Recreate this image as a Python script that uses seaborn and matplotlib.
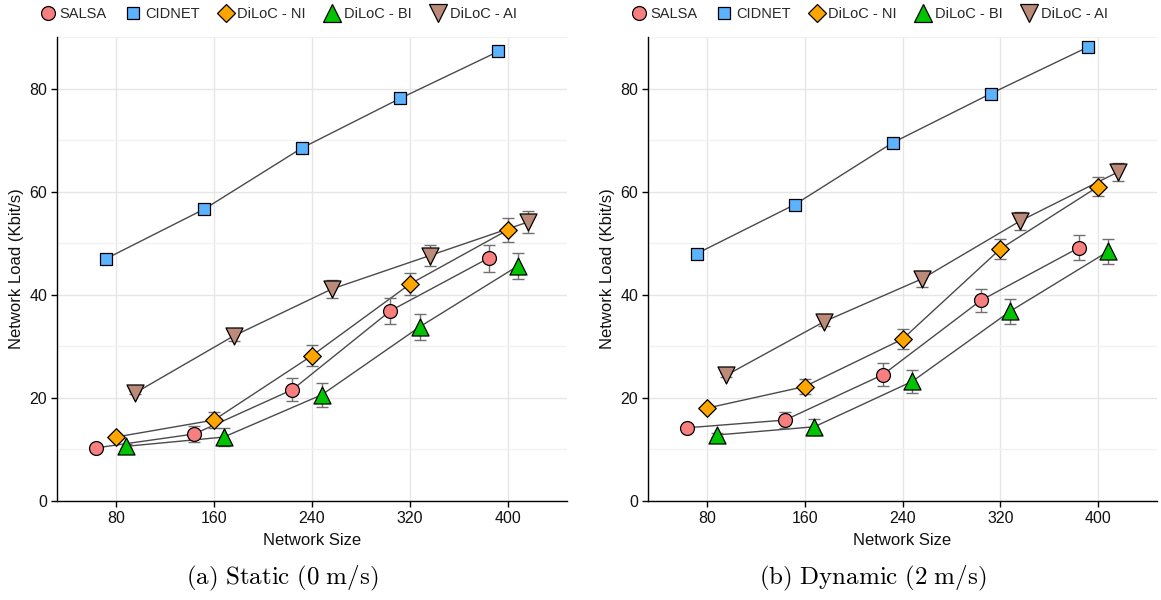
import numpy as np
import pandas as pd
import matplotlib
matplotlib.use("Agg")
import matplotlib.pyplot as plt
from matplotlib.lines import Line2D
import seaborn as sns

# Network sizes and compared methods
sizes = [80, 160, 240, 320, 400]
methods = ["SALSA", "CIDNET", "DiLoC - NI", "DiLoC - BI", "DiLoC - AI"]

# Static scenario (0 m/s): mean network load (Kbit/s) and error
static_salsa = [10.3, 13.0, 21.6, 36.9, 47.1]
static_salsa_err = [0.3, 1.6, 2.3, 2.5, 2.6]
static_cidnet = [47.0, 56.6, 68.5, 78.1, 87.2]
static_cidnet_err = [0.0, 0.0, 0.0, 0.0, 0.0]
static_ni = [12.4, 15.7, 28.2, 42.1, 52.6]
static_ni_err = [0.4, 1.5, 2.0, 2.2, 2.3]
static_bi = [10.6, 12.4, 20.6, 33.8, 45.6]
static_bi_err = [0.4, 1.7, 2.3, 2.5, 2.6]
static_ai = [21.0, 32.0, 41.1, 47.6, 54.1]
static_ai_err = [0.3, 0.9, 1.7, 2.0, 2.2]

# Dynamic scenario (2 m/s)
dynamic_salsa = [14.2, 15.7, 24.5, 38.9, 49.1]
dynamic_salsa_err = [0.3, 1.5, 2.2, 2.3, 2.4]
dynamic_cidnet = [48.0, 57.5, 69.5, 79.0, 88.1]
dynamic_cidnet_err = [0.0, 0.0, 0.0, 0.0, 0.0]
dynamic_ni = [18.0, 22.2, 31.4, 48.9, 61.0]
dynamic_ni_err = [0.3, 1.5, 2.0, 2.0, 1.8]
dynamic_bi = [12.8, 14.4, 23.2, 36.8, 48.4]
dynamic_bi_err = [0.3, 1.6, 2.2, 2.4, 2.5]
dynamic_ai = [24.4, 34.8, 43.1, 54.3, 63.8]
dynamic_ai_err = [0.4, 0.8, 1.6, 1.8, 1.7]

captions = ["(a) Static (0 m/s)", "(b) Dynamic (2 m/s)"]

colors = {"SALSA": "#F77F7F", "CIDNET": "#5CB3FF", "DiLoC - NI": "#FFA500",
          "DiLoC - BI": "#00C400", "DiLoC - AI": "#BC8A78"}
markers = {"SALSA": "o", "CIDNET": "s", "DiLoC - NI": "D",
           "DiLoC - BI": "^", "DiLoC - AI": "v"}
msizes = {"SALSA": 100, "CIDNET": 80, "DiLoC - NI": 80,
          "DiLoC - BI": 150, "DiLoC - AI": 150}
offsets = {"SALSA": -16, "CIDNET": -8, "DiLoC - NI": 0,
           "DiLoC - BI": 8, "DiLoC - AI": 16}

panels = {
    "static": [(static_salsa, static_salsa_err), (static_cidnet, static_cidnet_err),
               (static_ni, static_ni_err), (static_bi, static_bi_err),
               (static_ai, static_ai_err)],
    "dynamic": [(dynamic_salsa, dynamic_salsa_err), (dynamic_cidnet, dynamic_cidnet_err),
                (dynamic_ni, dynamic_ni_err), (dynamic_bi, dynamic_bi_err),
                (dynamic_ai, dynamic_ai_err)],
}

rows = []
for panel, series in panels.items():
    for m, (vals, errs) in zip(methods, series):
        for s, v, e in zip(sizes, vals, errs):
            rows.append({"panel": panel, "method": m, "size": s,
                         "xpos": s + offsets[m], "load": v, "err": e})
df = pd.DataFrame(rows)

sns.set_theme(style="white")
plt.rcParams["font.family"] = ["Liberation Sans", "DejaVu Sans"]
plt.rcParams["mathtext.fontset"] = "cm"

fig = plt.figure(figsize=(11.61, 6.0), dpi=100)
ax_rects = [[57 / 1161, 99 / 600, 510 / 1161, 464 / 600],
            [648 / 1161, 99 / 600, 509 / 1161, 464 / 600]]
legend_centers = [278 / 1161, 869 / 1161]
caption_centers = [282 / 1161, 873 / 1161]

for i, panel in enumerate(["static", "dynamic"]):
    ax = fig.add_axes(ax_rects[i])
    d = df[df.panel == panel]

    # connecting lines
    sns.lineplot(data=d, x="xpos", y="load", units="method", estimator=None,
                 color="#4a4a4a", linewidth=1.0, ax=ax, legend=False, zorder=2)

    # error bars
    for m in methods:
        dm = d[d.method == m]
        ax.errorbar(dm.xpos, dm.load, yerr=dm.err, fmt="none", ecolor="#707070",
                    elinewidth=1.0, capsize=4, capthick=1.0, zorder=3)

    # markers
    for m in methods:
        dm = d[d.method == m]
        sns.scatterplot(data=dm, x="xpos", y="load", marker=markers[m],
                        color=colors[m], s=msizes[m], edgecolor="black",
                        linewidth=0.9, ax=ax, legend=False, zorder=4)

    ax.set_xlim(32, 448)
    ax.set_ylim(0, 90)
    ax.set_xticks(sizes)
    ax.set_yticks([0, 20, 40, 60, 80])
    ax.set_yticks([10, 30, 50, 70, 90], minor=True)
    ax.grid(True, which="major", color="#e6e6e6", linewidth=1.0)
    ax.grid(True, which="minor", axis="y", color="#f2f2f2", linewidth=1.0)
    ax.set_axisbelow(True)
    for side in ["top", "right"]:
        ax.spines[side].set_visible(False)
    for side in ["left", "bottom"]:
        ax.spines[side].set_color("black")
        ax.spines[side].set_linewidth(1.0)
    ax.tick_params(axis="both", which="major", direction="out", length=4,
                   width=1, color="black", labelsize=11.5, labelcolor="#111111",
                   bottom=True, left=True, pad=3)
    ax.tick_params(axis="y", which="minor", length=0)
    ax.set_xlabel("Network Size", fontsize=12, color="#111111", labelpad=5)
    ax.set_ylabel("Network Load (Kbit/s)", fontsize=12, color="#111111", labelpad=4)

    handles = [Line2D([], [], linestyle="none", marker=markers[m],
                      markerfacecolor=colors[m], markeredgecolor="black",
                      markeredgewidth=0.9,
                      markersize={"o": 10, "s": 9, "D": 9, "^": 12.5, "v": 12.5}[markers[m]])
               for m in methods]
    fig.legend(handles, methods, loc="center", ncol=5, frameon=False,
               bbox_to_anchor=(legend_centers[i], 1 - 14 / 600),
               fontsize=10.5, handletextpad=0.2, columnspacing=1.2,
               handlelength=1.2)

    fig.text(caption_centers[i], 1 - 578 / 600,
             r"$\mathrm{" + captions[i].replace(" ", r"\ ") + "}$",
             ha="center", va="center", fontsize=18, color="black")

fig.savefig("out.png", dpi=100)
